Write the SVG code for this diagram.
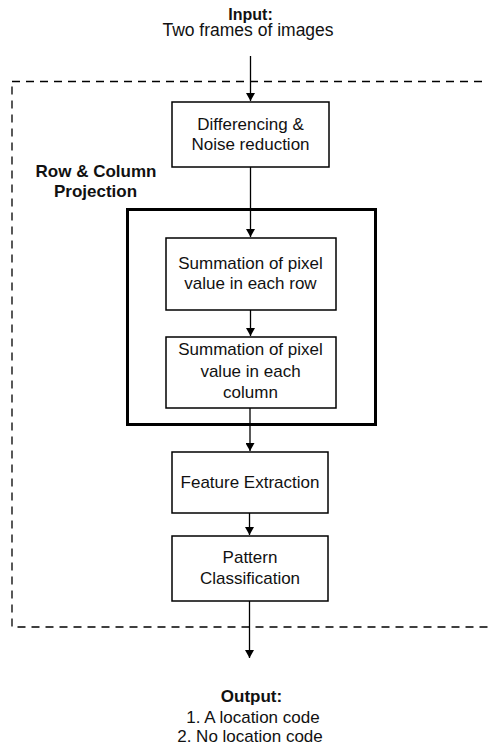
<svg xmlns="http://www.w3.org/2000/svg" width="488" height="748" viewBox="0 0 488 748">
<defs>
<marker id="ah" viewBox="0 0 8 9" refX="8" refY="4.5" markerWidth="8" markerHeight="9" markerUnits="userSpaceOnUse" orient="auto">
<path d="M0,0 L8,4.5 L0,9 Z" fill="#000"/>
</marker>
<style>
text{font-family:"Liberation Sans",Arial,sans-serif;font-size:17px;fill:#111;text-anchor:middle}
.b{font-weight:bold;font-size:17px}
.box{fill:#fff;stroke:#000;stroke-width:1.5}
.con line{stroke:#000;stroke-width:1.3;marker-end:url(#ah)}
</style>
</defs>
<rect width="488" height="748" fill="#fff"/>
<g id="system-boundary">
<rect x="12" y="81.5" width="490" height="545.5" fill="none" stroke="#000" stroke-width="1.3" stroke-dasharray="8,6"/>
</g>
<g id="input">
<text class="b" x="250.5" y="20" style="font-size:16px">Input:</text>
<text x="248" y="36" style="font-size:17.5px">Two frames of images</text>
</g>
<g id="projection">
<rect x="127.5" y="209.5" width="248" height="215" fill="none" stroke="#000" stroke-width="3"/>
<text class="b" x="96" y="176.5">Row &amp; Column</text>
<text class="b" x="95.5" y="196.5">Projection</text>
</g>
<g id="differencing">
<rect class="box" x="172" y="102" width="157" height="65"/>
<text x="250.5" y="130">Differencing &amp;</text>
<text x="250.5" y="150">Noise reduction</text>
</g>
<g id="row-sum">
<rect class="box" x="166" y="238" width="170" height="72"/>
<text x="250.5" y="268.5">Summation of pixel</text>
<text x="250.5" y="288.5">value in each row</text>
</g>
<g id="col-sum">
<rect class="box" x="166" y="337" width="170" height="71"/>
<text x="250.5" y="355">Summation of pixel</text>
<text x="250.5" y="377">value in each</text>
<text x="250.5" y="398">column</text>
</g>
<g id="feature">
<rect class="box" x="172" y="452" width="156" height="61"/>
<text x="250" y="488">Feature Extraction</text>
</g>
<g id="pattern">
<rect class="box" x="172" y="536" width="156" height="65"/>
<text x="250" y="563">Pattern</text>
<text x="250" y="584">Classification</text>
</g>
<g id="output">
<text class="b" x="251.5" y="701.5">Output:</text>
<text x="253" y="722.5">1. A location code</text>
<text x="250" y="741.5">2. No location code</text>
</g>
<g class="con" id="connectors">
<line x1="250.5" y1="56" x2="250.5" y2="101"/>
<line x1="250.5" y1="167" x2="250.5" y2="237"/>
<line x1="250.5" y1="310" x2="250.5" y2="336"/>
<line x1="250" y1="408" x2="250" y2="451"/>
<line x1="249.5" y1="513" x2="249.5" y2="535"/>
<line x1="249.5" y1="601" x2="249.5" y2="658"/>
</g>
</svg>
